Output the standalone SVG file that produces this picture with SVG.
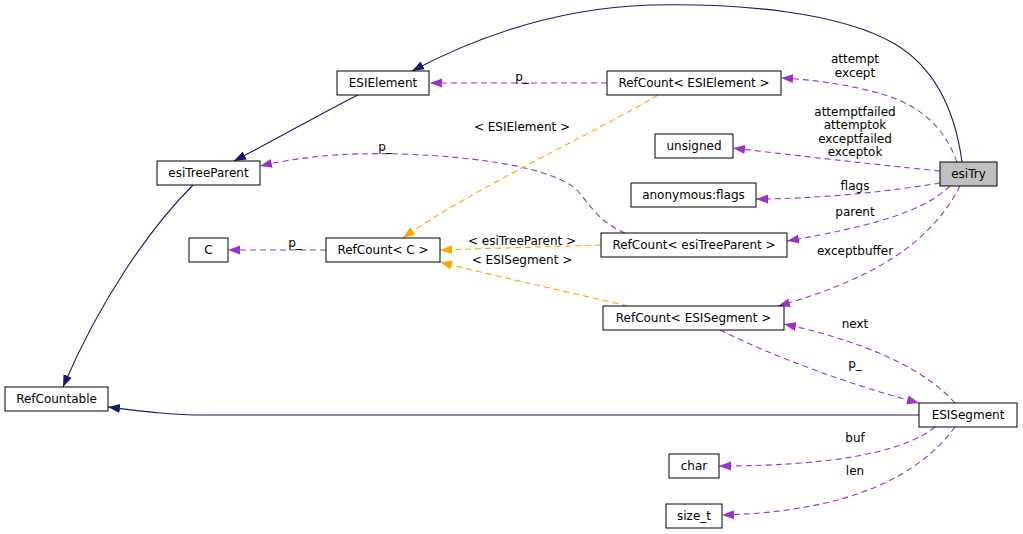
<svg xmlns="http://www.w3.org/2000/svg" width="1023" height="534" viewBox="0 0 1023 534">
<style>
.n rect{fill:#fff;stroke:#000;stroke-width:1}
.n text{font-family:"DejaVu Sans",sans-serif;font-size:12px;text-anchor:middle;fill:#000}
.l{font-family:"DejaVu Sans",sans-serif;font-size:12px;text-anchor:middle;fill:#000}
.inh{fill:none;stroke:#191970;stroke-width:1.1;marker-end:url(#an)}
.use{fill:none;stroke:#9a32cd;stroke-width:1.1;stroke-dasharray:6,4;marker-end:url(#ap)}
.tpl{fill:none;stroke:#ffa500;stroke-width:1.1;stroke-dasharray:6,4;marker-end:url(#ao)}
</style>
<defs>
<marker id="an" markerWidth="14" markerHeight="12" refX="12" refY="5" orient="auto" markerUnits="userSpaceOnUse"><path d="M0,0.5 L12,5 L0,9.5 z" fill="#191970"/></marker>
<marker id="ap" markerWidth="14" markerHeight="12" refX="12" refY="5" orient="auto" markerUnits="userSpaceOnUse"><path d="M0,0.5 L12,5 L0,9.5 z" fill="#9a32cd"/></marker>
<marker id="ao" markerWidth="14" markerHeight="12" refX="12" refY="5" orient="auto" markerUnits="userSpaceOnUse"><path d="M0,0.5 L12,5 L0,9.5 z" fill="#ffa500"/></marker>
</defs>
<rect width="1023" height="534" fill="#fff"/>
<g id="edges">
<path class="inh" d="M962,162 C955,110 935,68 895,44 C840,12 740,3 650,5 C560,8 480,35 412,71"/>
<path class="inh" d="M358,95 C320,114 275,140 234,161"/>
<path class="inh" d="M193,185 C150,228 100,300 63,387"/>
<path class="inh" d="M919,415 L205,415 C170,415 140,411 108,407"/>
<path class="use" d="M607,83 L430,83"/>
<text class="l" x="522" y="81">p_</text>
<path class="use" d="M957,162 C945,130 925,108 885,95 C855,86 820,80 781,78"/>
<text class="l" x="855" y="63">attempt</text>
<text class="l" x="855" y="77">except</text>
<path class="use" d="M940,171 C880,165 800,156 733,148"/>
<text class="l" x="855" y="116">attemptfailed</text>
<text class="l" x="855" y="129">attemptok</text>
<text class="l" x="855" y="143">exceptfailed</text>
<text class="l" x="855" y="156">exceptok</text>
<path class="use" d="M940,183 C880,193 810,199 756,199"/>
<text class="l" x="855" y="190">flags</text>
<path class="use" d="M950,186 C920,215 860,228 787,241"/>
<text class="l" x="855" y="216">parent</text>
<path class="use" d="M960,186 C930,245 870,280 778,306"/>
<text class="l" x="855" y="255">exceptbuffer</text>
<path class="use" d="M625,233 C600,223 590,205 577,190 C555,170 490,157 400,154 C340,152 295,158 260,166"/>
<text class="l" x="385" y="151">p_</text>
<path class="tpl" d="M658,95 C600,130 470,190 403,238"/>
<text class="l" x="522" y="131">&lt; ESIElement &gt;</text>
<path class="tpl" d="M601,245 L440,250"/>
<text class="l" x="522" y="245">&lt; esiTreeParent &gt;</text>
<path class="tpl" d="M628,306 C560,290 490,275 440,262"/>
<text class="l" x="522" y="264">&lt; ESISegment &gt;</text>
<path class="use" d="M326,250 L228,250"/>
<text class="l" x="295" y="247">p_</text>
<path class="use" d="M955,403 C930,375 880,345 784,324"/>
<text class="l" x="855" y="328">next</text>
<path class="use" d="M720,330 C770,355 850,385 919,403"/>
<text class="l" x="855" y="368">p_</text>
<path class="use" d="M935,427 C900,455 820,466 719,466"/>
<text class="l" x="855" y="442">buf</text>
<path class="use" d="M955,427 C920,475 850,512 722,515"/>
<text class="l" x="855" y="475">len</text>
</g>
<g id="esiTry" class="n"><rect x="940" y="162" width="57" height="24" style="fill:#bfbfbf"/><text x="968.5" y="178">esiTry</text></g>
<g id="ESIElement" class="n"><rect x="337" y="71" width="92" height="24"/><text x="383" y="87">ESIElement</text></g>
<g id="RefCount_ESIElement" class="n"><rect x="607" y="71" width="174" height="24"/><text x="694" y="87">RefCount&lt; ESIElement &gt;</text></g>
<g id="unsigned" class="n"><rect x="655" y="134" width="78" height="24"/><text x="694" y="150">unsigned</text></g>
<g id="anonymous_flags" class="n"><rect x="631" y="183" width="125" height="24"/><text x="693.5" y="199">anonymous:flags</text></g>
<g id="esiTreeParent" class="n"><rect x="157" y="161" width="103" height="24"/><text x="208.5" y="177">esiTreeParent</text></g>
<g id="C" class="n"><rect x="189" y="238" width="39" height="24"/><text x="208.5" y="254">C</text></g>
<g id="RefCount_C" class="n"><rect x="326" y="238" width="114" height="24"/><text x="383" y="254">RefCount&lt; C &gt;</text></g>
<g id="RefCount_esiTreeParent" class="n"><rect x="601" y="233" width="186" height="24"/><text x="694" y="249">RefCount&lt; esiTreeParent &gt;</text></g>
<g id="RefCount_ESISegment" class="n"><rect x="603" y="306" width="181" height="24"/><text x="693.5" y="322">RefCount&lt; ESISegment &gt;</text></g>
<g id="RefCountable" class="n"><rect x="5" y="387" width="103" height="24"/><text x="56.5" y="403">RefCountable</text></g>
<g id="ESISegment" class="n"><rect x="919" y="403" width="98" height="24"/><text x="968" y="419">ESISegment</text></g>
<g id="char" class="n"><rect x="669" y="454" width="50" height="24"/><text x="694" y="470">char</text></g>
<g id="size_t" class="n"><rect x="666" y="504" width="56" height="24"/><text x="694" y="520">size_t</text></g>
</svg>
